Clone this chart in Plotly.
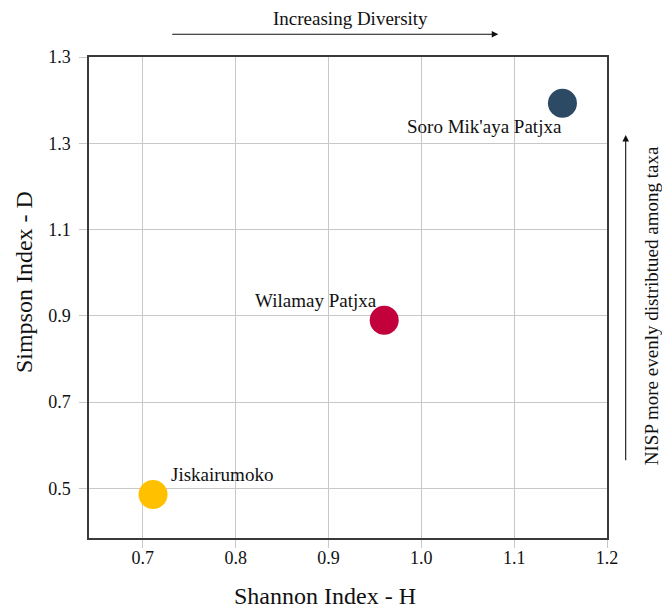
import plotly.graph_objects as go

# Diversity indices per site
sites = ["Jiskairumoko", "Wilamay Patjxa", "Soro Mik'aya Patjxa"]
shannon_h = [0.711, 0.960, 1.152]
simpson_d = [0.486, 0.890, 1.393]
site_colors = ["#FFC000", "#C1003C", "#2C4A63"]

# Axis ticks
x_tickvals = [0.7, 0.8, 0.9, 1.0, 1.1, 1.2]
x_ticktext = ["0.7", "0.8", "0.9", "1.0", "1.1", "1.2"]
y_tickvals = [0.5, 0.7, 0.9, 1.1, 1.3, 1.5]
y_ticktext = ["0.5", "0.7", "0.9", "1.1", "1.3", "1.3"]

# Label placement for each site (anchor, pixel offsets)
label_xanchor = ["left", "right", "right"]
label_yanchor = ["bottom", "bottom", "top"]
label_xshift = [16, -5, 2]
label_yshift = [7, 7, -11]

SERIF = "Liberation Serif, Times New Roman, serif"
GRID = "#c8c8c8"
AXIS = "#3a3a3a"

fig = go.Figure()
fig.add_trace(go.Scatter(
    x=shannon_h,
    y=simpson_d,
    mode="markers",
    marker=dict(size=29, color=site_colors, line=dict(width=0), opacity=1),
    hovertext=sites,
    showlegend=False,
))

annotations = []
for name, xv, yv, xa, ya, dx, dy in zip(sites, shannon_h, simpson_d,
                                         label_xanchor, label_yanchor,
                                         label_xshift, label_yshift):
    annotations.append(dict(
        x=xv, y=yv, xref="x", yref="y", text=name, showarrow=False,
        xanchor=xa, yanchor=ya, xshift=dx, yshift=dy,
        font=dict(family=SERIF, size=19, color="#111111"),
    ))

# Axis titles
annotations.append(dict(
    x=0.455, y=-0.1197, xref="paper", yref="paper", text="Shannon Index - H",
    showarrow=False, xanchor="center", yanchor="middle",
    font=dict(family=SERIF, size=24, color="#111111"),
))
annotations.append(dict(
    x=-0.1243, y=0.5312, xref="paper", yref="paper", text="Simpson Index - D",
    showarrow=False, xanchor="center", yanchor="middle", textangle=-90,
    font=dict(family=SERIF, size=24, color="#111111"),
))

# Direction hints
annotations.append(dict(
    x=0.5039, y=1.0802, xref="paper", yref="paper", text="Increasing Diversity",
    showarrow=False, xanchor="center", yanchor="middle",
    font=dict(family=SERIF, size=19, color="#111111"),
))
annotations.append(dict(
    x=0.7902, y=1.0472, xref="paper", yref="paper", text="",
    showarrow=True, ax=-327.6, ay=0, axref="pixel", ayref="pixel",
    arrowhead=2, arrowsize=1.2, arrowwidth=1.1, arrowcolor="#111111",
))
annotations.append(dict(
    x=1.0857, y=0.4827, xref="paper", yref="paper",
    text="NISP more evenly distribtued among taxa",
    showarrow=False, xanchor="center", yanchor="middle", textangle=-90,
    font=dict(family=SERIF, size=19, color="#111111"),
))
annotations.append(dict(
    x=1.0361, y=0.8378, xref="paper", yref="paper", text="",
    showarrow=True, ax=0, ay=326.7, axref="pixel", ayref="pixel",
    arrowhead=2, arrowsize=1.2, arrowwidth=1.1, arrowcolor="#111111",
))

axis_common = dict(
    showgrid=True, gridcolor=GRID, gridwidth=1,
    showline=True, linecolor=AXIS, linewidth=1.5, mirror=True,
    ticks="outside", ticklen=8, tickcolor=GRID, tickwidth=1,
    tickfont=dict(family=SERIF, size=18, color="#111111"),
    zeroline=False,
)

fig.update_layout(
    width=662, height=611,
    margin=dict(l=89, r=55, t=57, b=73),
    paper_bgcolor="white", plot_bgcolor="white",
    font=dict(family=SERIF),
    xaxis=dict(range=[0.642, 1.2], tickmode="array",
               tickvals=x_tickvals, ticktext=x_ticktext,
               ticklabelstandoff=-5, **axis_common),
    yaxis=dict(range=[0.385, 1.5], tickmode="array",
               tickvals=y_tickvals, ticktext=y_ticktext,
               ticklabelstandoff=5, **axis_common),
    annotations=annotations,
)

fig.write_html("out.html")
